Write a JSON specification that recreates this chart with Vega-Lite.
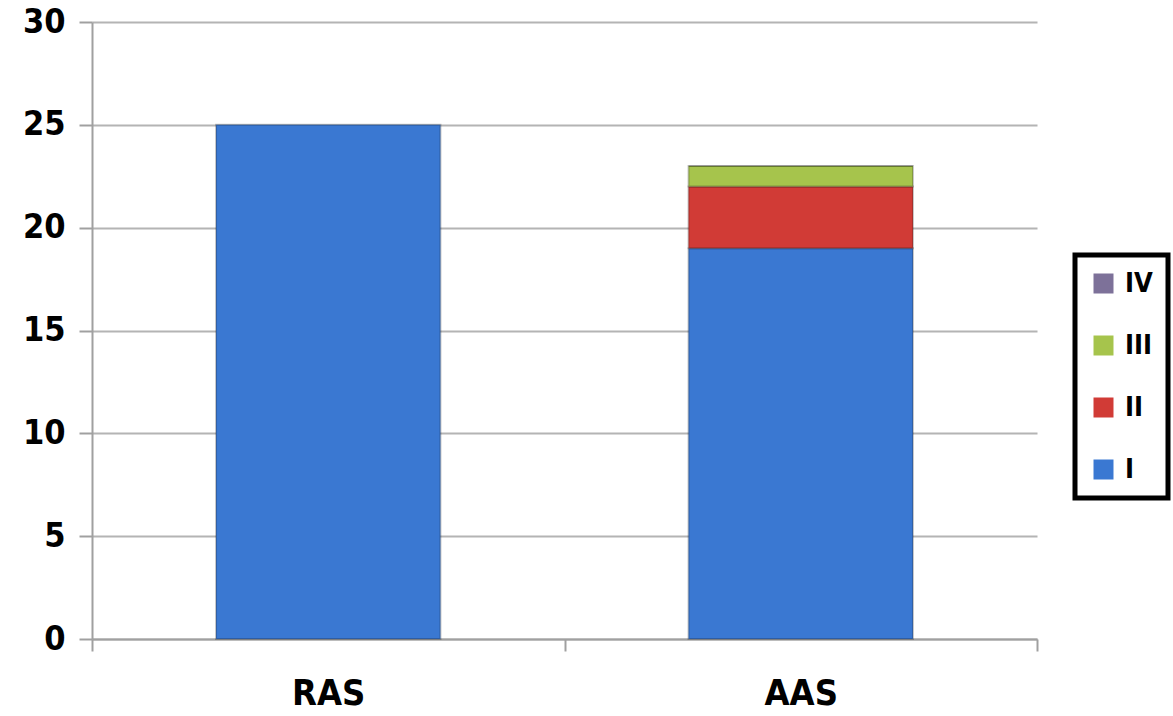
{
  "$schema": "https://vega.github.io/schema/vega-lite/v6.json",
  "autosize": {"type": "none"},
  "padding": {"left": 92, "top": 22, "right": 136, "bottom": 77},
  "width": 945,
  "height": 617,
  "background": "white",
  "data": {
    "values": [
      {"group": "RAS", "grade": "I", "rank": 1, "count": 25},
      {"group": "AAS", "grade": "I", "rank": 1, "count": 19},
      {"group": "AAS", "grade": "II", "rank": 2, "count": 3},
      {"group": "AAS", "grade": "III", "rank": 3, "count": 1},
      {"group": "AAS", "grade": "IV", "rank": 4, "count": 0}
    ]
  },
  "mark": {
    "type": "bar",
    "width": {"band": 0.475},
    "stroke": "black",
    "strokeOpacity": 0.22,
    "strokeWidth": 2
  },
  "encoding": {
    "x": {
      "field": "group",
      "type": "nominal",
      "sort": ["RAS", "AAS"],
      "scale": {"paddingInner": 0, "paddingOuter": 0},
      "axis": {
        "title": null,
        "labelAngle": 0,
        "labelFont": "DejaVu Sans Condensed",
        "labelFontWeight": "bold",
        "labelFontSize": 36,
        "labelColor": "black",
        "labelPadding": 25,
        "tickBand": "extent",
        "tickSize": 12,
        "tickColor": "#a0a0a0",
        "tickWidth": 2,
        "domainColor": "#a0a0a0",
        "domainWidth": 2
      }
    },
    "y": {
      "field": "count",
      "type": "quantitative",
      "stack": "zero",
      "scale": {"domain": [0, 30], "nice": false},
      "axis": {
        "title": null,
        "values": [0, 5, 10, 15, 20, 25, 30],
        "labelFont": "DejaVu Sans Condensed",
        "labelFontWeight": "bold",
        "labelFontSize": 34,
        "labelColor": "black",
        "labelPadding": 14,
        "tickSize": 13,
        "tickColor": "#a0a0a0",
        "tickWidth": 2,
        "domainColor": "#a0a0a0",
        "domainWidth": 2,
        "grid": true,
        "gridColor": "#b4b4b4",
        "gridWidth": 2
      }
    },
    "color": {
      "field": "grade",
      "type": "nominal",
      "scale": {
        "domain": ["IV", "III", "II", "I"],
        "range": ["#7d7199", "#a6c44c", "#d13b36", "#3a78d2"]
      },
      "legend": {
        "title": null,
        "orient": "none",
        "legendX": 983,
        "legendY": 233,
        "symbolType": "square",
        "symbolSize": 400,
        "symbolStrokeWidth": 0,
        "labelFont": "DejaVu Sans Condensed",
        "labelFontWeight": "bold",
        "labelFontSize": 27,
        "labelColor": "black",
        "labelOffset": 8,
        "rowPadding": 34,
        "padding": 15,
        "strokeColor": "black",
        "fillColor": "white"
      }
    },
    "order": {"field": "rank", "type": "quantitative", "sort": "ascending"}
  },
  "config": {
    "view": {"stroke": null},
    "legend": {"strokeWidth": 5}
  }
}
